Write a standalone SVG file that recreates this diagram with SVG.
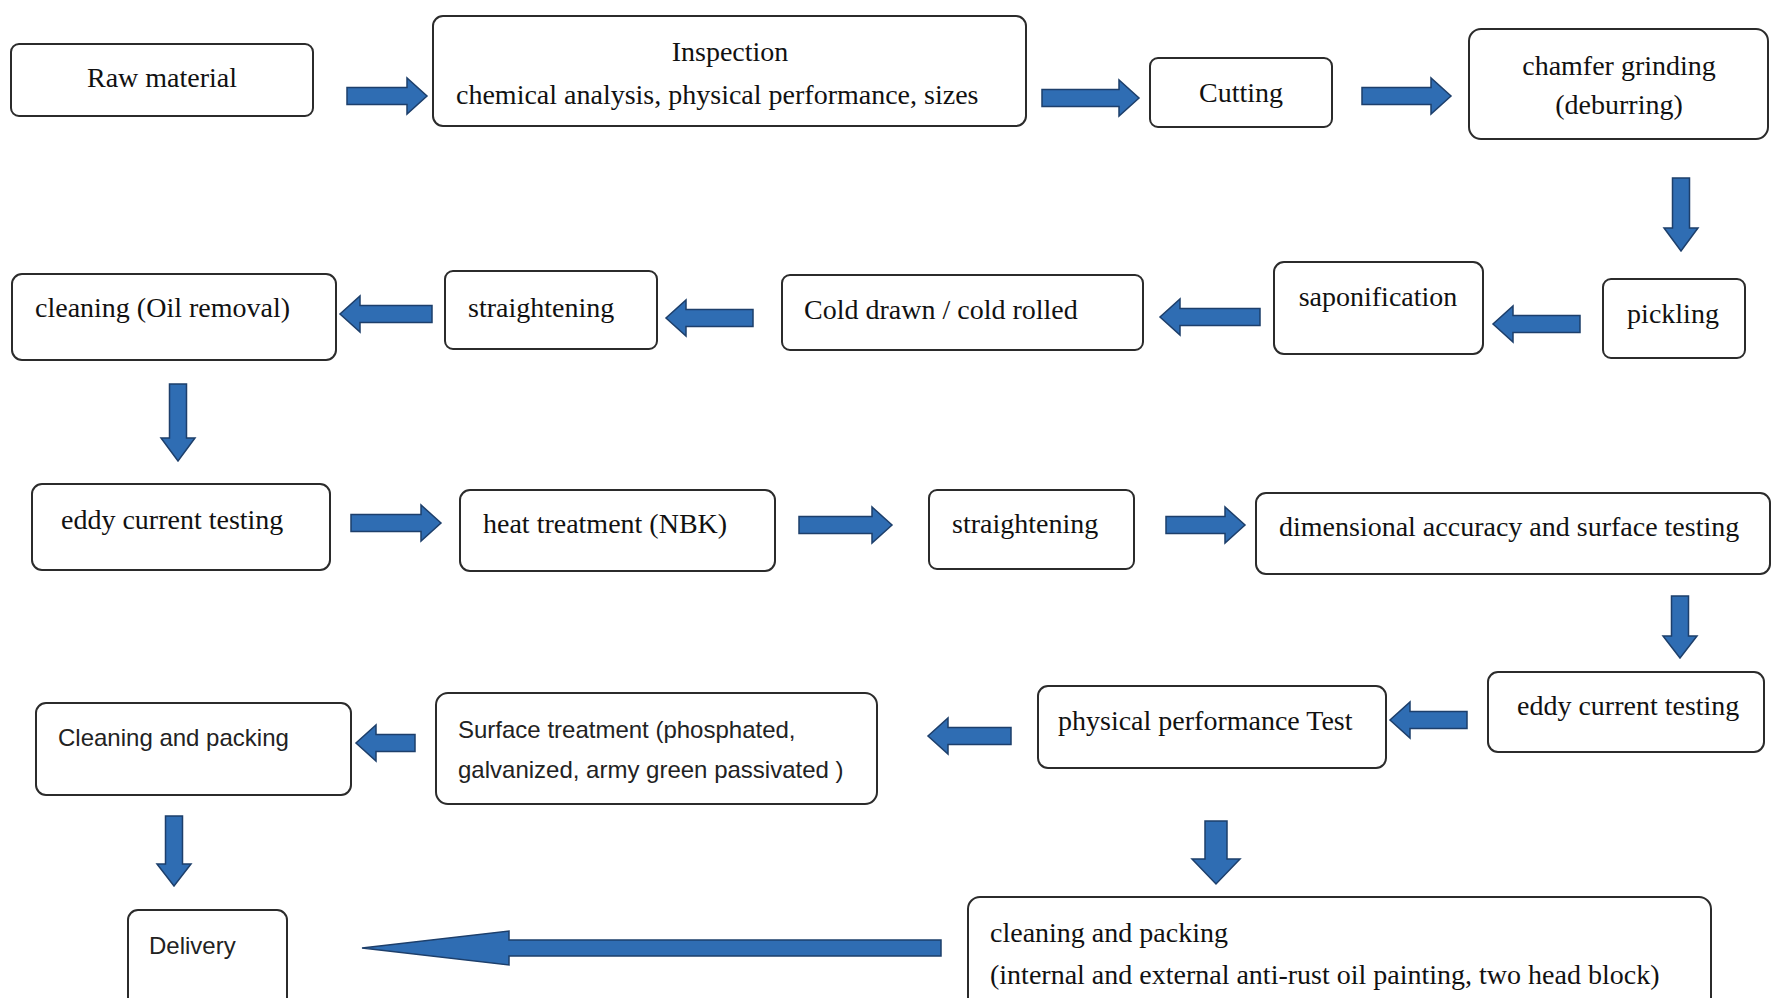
<svg xmlns="http://www.w3.org/2000/svg" width="1773" height="998" viewBox="0 0 1773 998">
<style>
.box{fill:#fff;stroke:#2b2b2b;stroke-width:2}
.t{font-family:"Liberation Serif","Times New Roman",serif;font-size:28px;fill:#111}
.s{font-family:"Liberation Sans",Arial,sans-serif;font-size:24px;fill:#222}
.c{text-anchor:middle}
.arr{fill:#2F6DB3;stroke:#1d3f6b;stroke-width:1.5;stroke-linejoin:miter}
</style>
<rect width="1773" height="998" fill="#fff"/>
<g id="connectors">
<polygon class="arr" points="347,87.5 407,87.5 407,78 427,96 407,114 407,104.5 347,104.5"/>
<polygon class="arr" points="1042,89.5 1119,89.5 1119,80 1139,98 1119,116 1119,106.5 1042,106.5"/>
<polygon class="arr" points="1362,87.5 1431,87.5 1431,78 1451,96 1431,114 1431,104.5 1362,104.5"/>
<polygon class="arr" points="1672.5,178 1689.5,178 1689.5,228 1698,228 1681,251 1664,228 1672.5,228"/>
<polygon class="arr" points="1580,315.5 1513,315.5 1513,306 1493,324 1513,342 1513,332.5 1580,332.5"/>
<polygon class="arr" points="1260,308.5 1180,308.5 1180,299 1160,317 1180,335 1180,325.5 1260,325.5"/>
<polygon class="arr" points="753,309.5 686,309.5 686,300 666,318 686,336 686,326.5 753,326.5"/>
<polygon class="arr" points="432,305.5 360,305.5 360,296 340,314 360,332 360,322.5 432,322.5"/>
<polygon class="arr" points="169.5,384 186.5,384 186.5,438 195,438 178,461 161,438 169.5,438"/>
<polygon class="arr" points="351,514.5 421,514.5 421,505 441,523 421,541 421,531.5 351,531.5"/>
<polygon class="arr" points="799,516.5 872,516.5 872,507 892,525 872,543 872,533.5 799,533.5"/>
<polygon class="arr" points="1166,516.5 1225,516.5 1225,507 1245,525 1225,543 1225,533.5 1166,533.5"/>
<polygon class="arr" points="1671.5,596 1688.5,596 1688.5,636 1697,636 1680,658 1663,636 1671.5,636"/>
<polygon class="arr" points="1467,711.5 1410,711.5 1410,702 1390,720 1410,738 1410,728.5 1467,728.5"/>
<polygon class="arr" points="1011,727.5 948,727.5 948,718 928,736 948,754 948,744.5 1011,744.5"/>
<polygon class="arr" points="415,734.5 376,734.5 376,725 356,743 376,761 376,751.5 415,751.5"/>
<polygon class="arr" points="165.5,816 182.5,816 182.5,864 191,864 174,886 157,864 165.5,864"/>
<polygon class="arr" points="1205,821 1227,821 1227,859 1240,859 1216,884 1192,859 1205,859"/>
<polygon class="arr" points="941,940 509,940 509,931 362,948 509,965 509,956 941,956"/>
</g>
<g id="n1"><rect class="box" x="11" y="44" width="302" height="72" rx="8"/><text class="t c" x="162" y="87">Raw material</text></g>
<g id="n2"><rect class="box" x="433" y="16" width="593" height="110" rx="10"/><text class="t c" x="730" y="61">Inspection</text><text class="t" x="456" y="104">chemical analysis, physical performance, sizes</text></g>
<g id="n3"><rect class="box" x="1150" y="58" width="182" height="69" rx="8"/><text class="t c" x="1241" y="102">Cutting</text></g>
<g id="n4"><rect class="box" x="1469" y="29" width="299" height="110" rx="12"/><text class="t c" x="1619" y="75">chamfer grinding</text><text class="t c" x="1619" y="114">(deburring)</text></g>
<g id="n5"><rect class="box" x="1603" y="279" width="142" height="79" rx="8"/><text class="t c" x="1673" y="323">pickling</text></g>
<g id="n6"><rect class="box" x="1274" y="262" width="209" height="92" rx="10"/><text class="t c" x="1378" y="306">saponification</text></g>
<g id="n7"><rect class="box" x="782" y="275" width="361" height="75" rx="8"/><text class="t" x="804" y="319">Cold drawn / cold rolled</text></g>
<g id="n8"><rect class="box" x="445" y="271" width="212" height="78" rx="8"/><text class="t" x="468" y="317">straightening</text></g>
<g id="n9"><rect class="box" x="12" y="274" width="324" height="86" rx="10"/><text class="t" x="35" y="317">cleaning (Oil removal)</text></g>
<g id="n10"><rect class="box" x="32" y="484" width="298" height="86" rx="10"/><text class="t" x="61" y="529">eddy current testing</text></g>
<g id="n11"><rect class="box" x="460" y="490" width="315" height="81" rx="10"/><text class="t" x="483" y="533">heat treatment (NBK)</text></g>
<g id="n12"><rect class="box" x="929" y="490" width="205" height="79" rx="8"/><text class="t" x="952" y="533">straightening</text></g>
<g id="n13"><rect class="box" x="1256" y="493" width="514" height="81" rx="10"/><text class="t" x="1279" y="536">dimensional accuracy and surface testing</text></g>
<g id="n14"><rect class="box" x="1488" y="672" width="276" height="80" rx="10"/><text class="t" x="1517" y="715">eddy current testing</text></g>
<g id="n15"><rect class="box" x="1038" y="686" width="348" height="82" rx="10"/><text class="t" x="1058" y="730">physical performance Test</text></g>
<g id="n16"><rect class="box" x="436" y="693" width="441" height="111" rx="12"/><text class="s" x="458" y="738">Surface treatment (phosphated,</text><text class="s" x="458" y="778">galvanized, army green passivated )</text></g>
<g id="n17"><rect class="box" x="36" y="703" width="315" height="92" rx="10"/><text class="s" x="58" y="746">Cleaning and packing</text></g>
<g id="n18"><rect class="box" x="128" y="910" width="159" height="100" rx="10"/><text class="s" x="149" y="954">Delivery</text></g>
<g id="n19"><rect class="box" x="968" y="897" width="743" height="113" rx="12"/><text class="t" x="990" y="942">cleaning and packing</text><text class="t" x="990" y="984">(internal and external anti-rust oil painting, two head block)</text></g>
</svg>
